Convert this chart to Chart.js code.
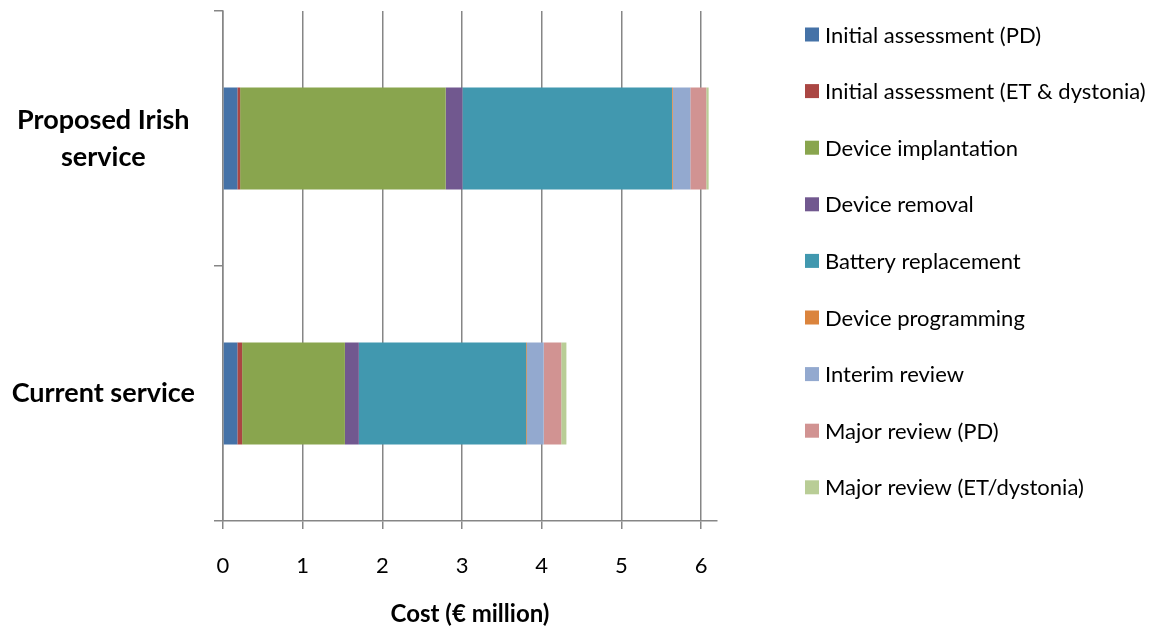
<!DOCTYPE html>
<html>
<head>
<meta charset="utf-8">
<script src="https://cdn.jsdelivr.net/npm/chart.js@4/dist/chart.umd.min.js"></script>
<style>
  html, body { margin: 0; padding: 0; background: #fff; }
  #wrap { width: 1154px; height: 627px; position: relative; }
</style>
</head>
<body>
<div id="wrap"><canvas id="c" width="1154" height="627"></canvas></div>
<script>
// Categories (top to bottom)
const categories = [['Proposed Irish', 'service'], 'Current service'];

// Series values (€ million): [Proposed Irish service, Current service]
const initialAssessmentPD = [0.18, 0.18];
const initialAssessmentET = [0.035, 0.06];
const deviceImplantation = [2.58, 1.29];
const deviceRemoval = [0.21, 0.175];
const batteryReplacement = [2.63, 2.10];
const deviceProgramming = [0.01, 0.01];
const interimReview = [0.22, 0.21];
const majorReviewPD = [0.20, 0.22];
const majorReviewET = [0.03, 0.065];

const seriesLabels = [
  'Initial assessment (PD)',
  'Initial assessment (ET & dystonia)',
  'Device implantation',
  'Device removal',
  'Battery replacement',
  'Device programming',
  'Interim review',
  'Major review (PD)',
  'Major review (ET/dystonia)'
];
const seriesValues = [
  initialAssessmentPD, initialAssessmentET, deviceImplantation, deviceRemoval,
  batteryReplacement, deviceProgramming, interimReview, majorReviewPD, majorReviewET
];
const seriesColors = ['#4572A7', '#AA4643', '#89A54E', '#71588F', '#4198AF', '#DB843D', '#93A9CF', '#D19392', '#B9CD96'];

// Axis tick values
const xTickMin = 0;
const xTickMax = 6.2;
const xTickStep = 1;

const FONT = 'Lato, "Open Sans", "Liberation Sans", sans-serif';
const GRID = '#868686';

const legendPlugin = {
  id: 'sideLegend',
  afterDraw(chart) {
    const ctx = chart.ctx;
    ctx.save();
    ctx.font = '22px ' + FONT;
    ctx.textBaseline = 'middle';
    ctx.textAlign = 'left';
    chart.data.datasets.forEach((ds, i) => {
      const y = 34.5 + i * 56.6;
      ctx.fillStyle = ds.backgroundColor;
      ctx.fillRect(805, y - 7, 14, 14);
      ctx.fillStyle = '#000';
      ctx.fillText(ds.label, 825, y + 1);
    });
    ctx.restore();
  }
};

new Chart(document.getElementById('c'), {
  type: 'bar',
  data: {
    labels: categories,
    datasets: seriesLabels.map((label, i) => ({
      label: label,
      data: seriesValues[i],
      backgroundColor: seriesColors[i],
      borderWidth: 0,
      categoryPercentage: 1.0,
      barPercentage: 0.4
    }))
  },
  options: {
    indexAxis: 'y',
    responsive: false,
    animation: false,
    layout: { padding: { top: 11, left: 0, right: 437, bottom: 0 } },
    plugins: {
      legend: { display: false },
      tooltip: { enabled: false }
    },
    scales: {
      x: {
        stacked: true,
        min: xTickMin,
        max: xTickMax,
        afterFit: (s) => { s.height = 106; s.paddingLeft = 0; s.paddingRight = 0; },
        ticks: {
          stepSize: xTickStep,
          includeBounds: false,
          color: '#000',
          padding: 24,
          font: { family: FONT, size: 22 }
        },
        grid: { color: GRID, lineWidth: 1.5, tickLength: 8, drawTicks: true },
        border: { color: GRID, width: 1.5 },
        title: {
          display: true,
          text: 'Cost (€ million)',
          color: '#000',
          font: { family: FONT, size: 24, weight: 'bold', lineHeight: 1.0 },
          padding: { top: 0, bottom: 1 }
        }
      },
      y: {
        stacked: true,
        afterFit: (s) => { s.width = 223; s.paddingTop = 0; s.paddingBottom = 0; },
        ticks: {
          color: '#000',
          crossAlign: 'center',
          padding: 19,
          font: { family: FONT, size: 27, weight: 'bold', lineHeight: 1.37 }
        },
        grid: { color: GRID, lineWidth: 1.5, tickLength: 9, drawOnChartArea: false, drawTicks: true, offset: true },
        border: { color: GRID, width: 1.5 }
      }
    }
  },
  plugins: [legendPlugin]
});
</script>
</body>
</html>
